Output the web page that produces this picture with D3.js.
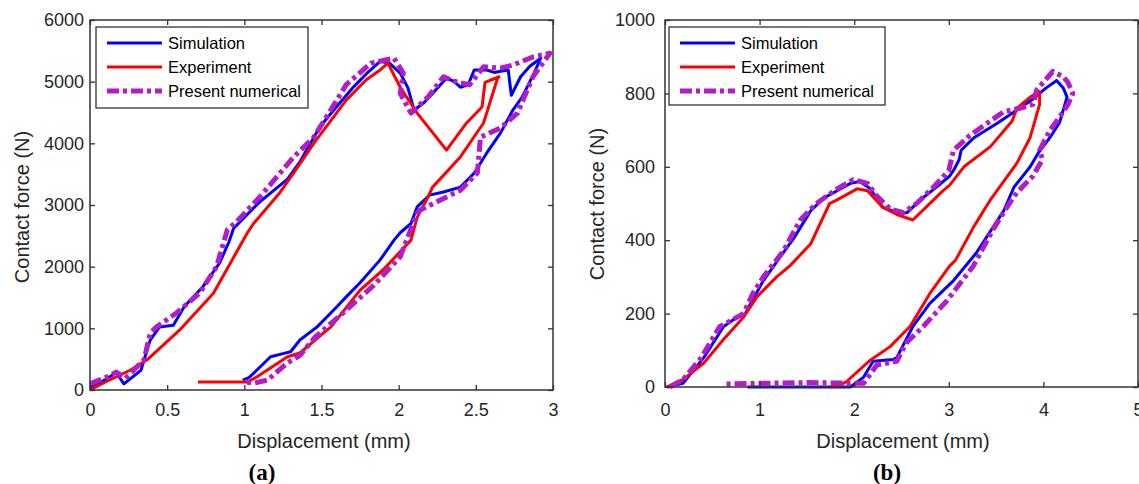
<!DOCTYPE html>
<html>
<head>
<meta charset="utf-8">
<script src="https://cdn.jsdelivr.net/npm/d3@7"></script>
<style>
  body { margin: 0; background: #fff; }
  svg { display: block; }
</style>
</head>
<body>
<div class="canvas"></div>
<script>
// panel (a) data, [displacement mm, force N]
const simA = [[0,40],[0.1,170],[0.17,280],[0.22,100],[0.33,320],[0.39,810],[0.45,1020],[0.54,1050],[0.61,1350],[0.73,1670],[0.84,2060],[0.9,2400],[0.93,2620],[1.0,2800],[1.1,3050],[1.28,3420],[1.36,3700],[1.49,4270],[1.6,4600],[1.71,4920],[1.8,5150],[1.88,5330],[1.94,5300],[2.01,5140],[2.06,4900],[2.1,4540],[2.16,4650],[2.22,4810],[2.31,5060],[2.36,5000],[2.4,4910],[2.45,4950],[2.49,5190],[2.57,5190],[2.62,5150],[2.66,5170],[2.71,5190],[2.73,4780],[2.79,5080],[2.85,5250],[2.92,5380],
  [2.88,5150],[2.8,4750],[2.74,4540],[2.66,4170],[2.57,3840],[2.49,3520],[2.4,3290],[2.29,3210],[2.2,3160],[2.12,2970],[2.08,2700],[2.01,2550],[1.97,2430],[1.88,2110],[1.75,1740],[1.66,1510],[1.6,1350],[1.47,1020],[1.36,810],[1.3,620],[1.25,590],[1.17,540],[1.08,320],[1.03,200],[0.99,160]];
const expA = [[0,0],[0.1,130],[0.26,320],[0.37,490],[0.58,970],[0.8,1570],[1.02,2550],[1.06,2700],[1.23,3200],[1.32,3520],[1.45,4000],[1.66,4700],[1.79,5030],[1.88,5190],[1.93,5300],[2.01,4910],[2.12,4490],[2.31,3890],[2.44,4330],[2.54,4590],[2.56,4990],[2.65,5080],
  [2.64,5050],[2.55,4330],[2.4,3780],[2.22,3290],[2.19,3130],[2.12,2800],[2.08,2430],[1.9,1950],[1.75,1620],[1.56,1020],[1.51,920],[1.36,600],[1.28,540],[1.08,210],[1.02,130],[0.7,130]];
const numA = [[0,100],[0.1,200],[0.17,290],[0.23,190],[0.35,490],[0.39,920],[0.43,1020],[0.56,1250],[0.71,1570],[0.82,2000],[0.89,2600],[0.95,2730],[1.1,3130],[1.32,3780],[1.45,4100],[1.55,4500],[1.66,4950],[1.82,5300],[1.97,5380],[2.03,5140],[2.01,4810],[2.08,4490],[2.19,4750],[2.29,5080],[2.38,4990],[2.46,4950],[2.55,5240],[2.66,5220],[2.74,5270],[2.87,5400],[2.98,5460],
  [2.87,5080],[2.77,4490],[2.66,4250],[2.53,4100],[2.51,3520],[2.4,3240],[2.27,3080],[2.14,2920],[2.12,2870],[2.01,2160],[1.84,1700],[1.64,1250],[1.46,860],[1.36,560],[1.28,440],[1.15,160],[1.06,110],[1.0,130]];

// panel (b) data
const simB = [[0.02,0],[0.19,10],[0.41,80],[0.62,165],[0.76,190],[0.84,195],[0.9,225],[1.04,290],[1.22,355],[1.36,405],[1.54,480],[1.68,515],[1.96,555],[2.06,560],[2.17,540],[2.3,490],[2.45,475],[2.56,475],[2.7,510],[2.87,545],[3.01,575],[3.05,590],[3.11,620],[3.13,645],[3.27,680],[3.52,720],[3.72,755],[3.89,785],[4.03,815],[4.14,835],[4.21,815],[4.25,790],
  [4.17,720],[4.07,680],[3.94,635],[3.86,600],[3.69,545],[3.58,480],[3.29,365],[3.05,290],[2.8,228],[2.62,165],[2.45,80],[2.41,75],[2.2,70],[2.1,27],[1.96,0],[0.87,0]];
const expB = [[0.02,0],[0.19,20],[0.41,65],[0.62,130],[0.83,190],[0.97,245],[1.18,300],[1.32,330],[1.54,390],[1.74,500],[1.82,510],[2.03,540],[2.14,535],[2.3,490],[2.45,470],[2.62,455],[2.76,490],[2.94,535],[3.01,550],[3.16,600],[3.44,655],[3.67,725],[3.72,760],[3.86,790],[3.96,805],
  [3.96,770],[3.86,680],[3.72,610],[3.51,535],[3.44,510],[3.26,435],[3.07,345],[3.01,330],[2.8,255],[2.59,165],[2.38,110],[2.17,73],[1.92,15],[1.85,5],[1.75,0]];
const numB = [[0.05,0],[0.19,20],[0.37,75],[0.58,165],[0.69,180],[0.83,200],[0.93,255],[1.04,300],[1.25,370],[1.43,455],[1.6,500],[1.82,540],[1.99,565],[2.14,555],[2.24,520],[2.38,485],[2.52,475],[2.66,500],[2.84,545],[3.0,590],[3.05,645],[3.22,685],[3.44,725],[3.58,750],[3.76,760],[3.89,770],[3.93,810],[4.1,860],[4.21,845],[4.26,830],[4.31,800],
  [4.26,770],[4.17,735],[4.07,700],[3.96,645],[3.99,620],[3.89,575],[3.72,530],[3.64,500],[3.47,430],[3.26,330],[2.98,235],[2.73,165],[2.55,120],[2.45,70],[2.24,60],[2.1,10],[1.5,12],[1.0,10],[0.62,8]];

const seriesNames = ["Simulation", "Experiment", "Present numerical"];
const xTicksA = [0, 0.5, 1, 1.5, 2, 2.5, 3];
const yTicksA = [0, 1000, 2000, 3000, 4000, 5000, 6000];
const xTicksB = [0, 1, 2, 3, 4, 5];
const yTicksB = [0, 200, 400, 600, 800, 1000];

const styles = [
  { color: "#0000ff", width: 3, dash: null },
  { color: "#ff0000", width: 3, dash: null },
  { color: "#b31cc6", width: 5, dash: "12,4,4,4" }
];

const svg = d3.select(".canvas").append("svg")
  .attr("width", 1139).attr("height", 484);

const font = "'Liberation Sans', Arial, sans-serif";

function drawPanel(p) {
  const x = d3.scaleLinear().domain(p.xDomain).range([p.left, p.right]);
  const y = d3.scaleLinear().domain(p.yDomain).range([p.bottom, p.top]);
  const g = svg.append("g");

  // curves
  const line = d3.line().x(d => x(d[0])).y(d => y(d[1]));
  p.series.forEach((s, i) => {
    g.append("path").datum(s)
      .attr("d", line)
      .attr("fill", "none")
      .attr("stroke", styles[i].color)
      .attr("stroke-width", styles[i].width)
      .attr("stroke-linejoin", "round")
      .attr("stroke-dasharray", styles[i].dash);
  });

  // axes with inward ticks
  const bottom = g.append("g").attr("transform", `translate(0,${p.bottom})`)
    .call(d3.axisBottom(x).tickValues(p.xTicks).tickFormat(d3.format("")).tickSizeInner(-5).tickSizeOuter(0).tickPadding(p.xPad));
  const left = g.append("g").attr("transform", `translate(${p.left},0)`)
    .call(d3.axisLeft(y).tickValues(p.yTicks).tickFormat(d3.format("")).tickSizeInner(-5).tickSizeOuter(0).tickPadding(p.yPad));
  const top = g.append("g").attr("transform", `translate(0,${p.top})`)
    .call(d3.axisTop(x).tickValues(p.xTicks).tickFormat("").tickSizeInner(-5).tickSizeOuter(0));
  const right = g.append("g").attr("transform", `translate(${p.right},0)`)
    .call(d3.axisRight(y).tickValues(p.yTicks).tickFormat("").tickSizeInner(-5).tickSizeOuter(0));
  [bottom, left, top, right].forEach(a => {
    a.select(".domain").remove();
    a.selectAll("line").attr("stroke", "#333").attr("stroke-width", 1.3);
    a.selectAll("text").attr("fill", "#262626").style("font-family", font).style("font-size", "18px");
  });

  // frame
  g.append("rect")
    .attr("x", p.left).attr("y", p.top)
    .attr("width", p.right - p.left).attr("height", p.bottom - p.top)
    .attr("fill", "none").attr("stroke", "#333").attr("stroke-width", 1.5);

  // axis labels
  g.append("text").attr("x", p.xLabelX).attr("y", 448)
    .attr("text-anchor", "middle").attr("fill", "#262626")
    .style("font-family", font).style("font-size", "20px")
    .text("Displacement (mm)");
  g.append("text")
    .attr("transform", `translate(${p.yLabelX},${p.yLabelY}) rotate(-90)`)
    .attr("text-anchor", "middle").attr("fill", "#262626")
    .style("font-family", font).style("font-size", "20px")
    .text("Contact force (N)");

  // panel caption
  g.append("text").attr("x", p.captionX).attr("y", 480)
    .attr("text-anchor", "middle").attr("fill", "#000")
    .style("font-family", "'Liberation Serif', 'Times New Roman', serif")
    .style("font-size", "23px").style("font-weight", "bold")
    .text(p.caption);

  // legend
  const lg = g.append("g");
  lg.append("rect")
    .attr("x", p.legend.x).attr("y", p.legend.y)
    .attr("width", p.legend.w).attr("height", p.legend.h)
    .attr("fill", "#fff").attr("stroke", "#333").attr("stroke-width", 1.3);
  seriesNames.forEach((name, i) => {
    const ly = p.legend.y + 16 + i * 24;
    lg.append("line")
      .attr("x1", p.legend.x + 11).attr("x2", p.legend.x + 66)
      .attr("y1", ly).attr("y2", ly)
      .attr("stroke", styles[i].color)
      .attr("stroke-width", styles[i].width)
      .attr("stroke-dasharray", styles[i].dash);
    lg.append("text")
      .attr("x", p.legend.x + 72).attr("y", ly)
      .attr("dy", "0.35em").attr("fill", "#000")
      .style("font-family", font).style("font-size", "16.5px")
      .text(name);
  });
}

drawPanel({
  series: [simA, expA, numA],
  xDomain: [0, 3], yDomain: [0, 6000],
  xTicks: xTicksA, yTicks: yTicksA,
  left: 90, right: 553, top: 20, bottom: 390,
  xPad: 13, yPad: 6,
  xLabelX: 324, yLabelX: 29, yLabelY: 207,
  captionX: 262, caption: "(a)",
  legend: { x: 96, y: 27, w: 212, h: 81 }
});

drawPanel({
  series: [simB, expB, numB],
  xDomain: [0, 5], yDomain: [0, 1000],
  xTicks: xTicksB, yTicks: yTicksB,
  left: 665, right: 1138, top: 20, bottom: 387,
  xPad: 16, yPad: 10,
  xLabelX: 903, yLabelX: 604, yLabelY: 204,
  captionX: 887, caption: "(b)",
  legend: { x: 669, y: 27, w: 216, h: 78 }
});
</script>
</body>
</html>
